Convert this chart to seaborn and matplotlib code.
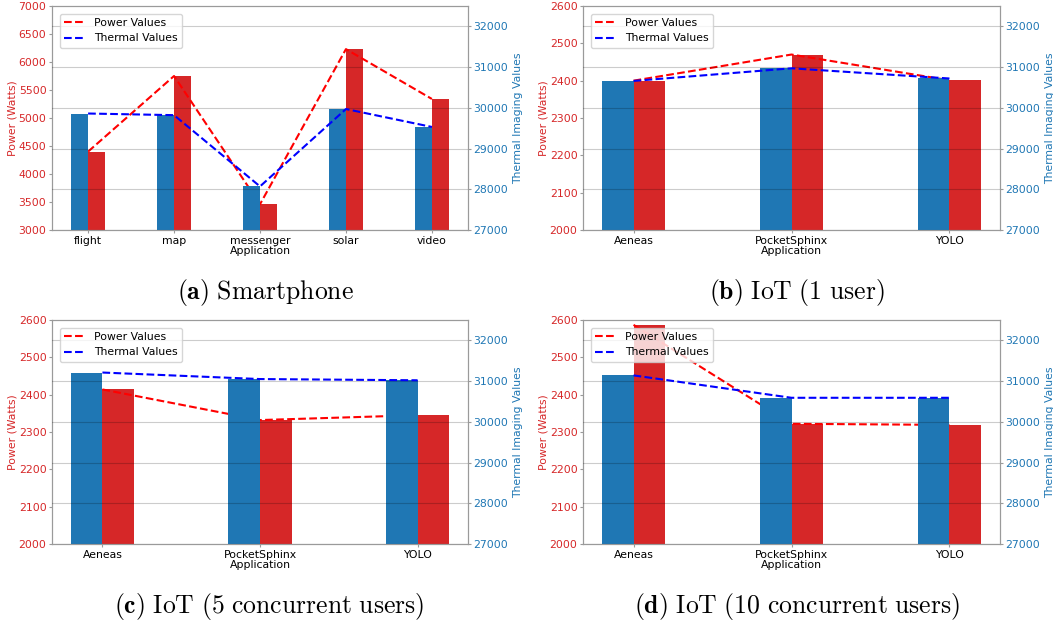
import numpy as np
import pandas as pd
import matplotlib
matplotlib.use("Agg")
import matplotlib.pyplot as plt
import seaborn as sns

# ---- data -----------------------------------------------------------------
smartphone_apps = ["flight", "map", "messenger", "solar", "video"]
smartphone_power = [4400, 5750, 3460, 6230, 5340]
smartphone_thermal = [29860, 29820, 28070, 29970, 29530]

iot_apps = ["Aeneas", "PocketSphinx", "YOLO"]
iot1_power = [2400, 2470, 2401]
iot1_thermal = [30660, 30970, 30720]
iot5_power = [2414, 2332, 2345]
iot5_thermal = [31210, 31050, 31020]
iot10_power = [2587, 2322, 2319]
iot10_thermal = [31140, 30590, 30590]

captions = [
    r"$\mathbf{(a)}\ \mathrm{Smartphone}$",
    r"$\mathbf{(b)}\ \mathrm{IoT\ (1\ user)}$",
    r"$\mathbf{(c)}\ \mathrm{IoT\ (5\ concurrent\ users)}$",
    r"$\mathbf{(d)}\ \mathrm{IoT\ (10\ concurrent\ users)}$",
]

smartphone_power_ticks = [3000, 3500, 4000, 4500, 5000, 5500, 6000, 6500, 7000]
iot_power_ticks = [2000, 2100, 2200, 2300, 2400, 2500, 2600]
thermal_ticks = [27000, 28000, 29000, 30000, 31000, 32000]
thermal_lim = (27000, 32500)

# ---- style ----------------------------------------------------------------
RED = "#d62728"
BLUE = "#1f77b4"
SPINE = "#9a9a9a"
FS = 7.8
plt.rcParams["mathtext.fontset"] = "cm"

palette = {"Thermal": BLUE, "Power": RED}

fig = plt.figure(figsize=(10.53, 6.23), dpi=100)
W, H = 1053, 623


def rect(left, top, right, bottom):
    return [left / W, 1 - bottom / H, (right - left) / W, (bottom - top) / H]


def draw_panel(r, apps, power, thermal, power_ticks):
    ax1 = fig.add_axes(r)
    ax2 = ax1.twinx()
    n = len(apps)

    df_p = pd.DataFrame({"app": apps, "series": "Power", "value": power})
    df_t = pd.DataFrame({"app": apps, "series": "Thermal", "value": thermal})
    common = dict(x="app", y="value", hue="series", order=apps,
                  hue_order=["Thermal", "Power"], palette=palette,
                  width=0.4, dodge=True, saturation=1, errorbar=None,
                  legend=False, linewidth=0)
    sns.barplot(data=df_p, ax=ax1, **common)
    sns.barplot(data=df_t, ax=ax2, **common)

    pos = np.arange(n)
    sns.lineplot(x=pos, y=power, ax=ax1, color="red", linestyle="--",
                 linewidth=1.5, label="Power Values", legend=False)
    sns.lineplot(x=pos, y=thermal, ax=ax2, color="blue", linestyle="--",
                 linewidth=1.5, label="Thermal Values", legend=False,
                 zorder=3)

    # x range: bars plus 5% margin on each side
    span = (n - 1) + 0.4
    ax1.set_xlim(-0.2 - 0.05 * span, n - 1 + 0.2 + 0.05 * span)
    ax1.set_xticks(pos)
    ax1.set_xticklabels(apps)

    ax1.set_ylim(power_ticks[0], power_ticks[-1])
    ax1.set_yticks(power_ticks)
    ax2.set_ylim(*thermal_lim)
    ax2.set_yticks(thermal_ticks)

    ax1.grid(False)
    ax2.grid(False)
    ax2.yaxis.grid(True, color="black", alpha=0.2, linewidth=0.8)
    ax2.set_axisbelow(False)

    for ax in (ax1, ax2):
        for s in ax.spines.values():
            s.set_color(SPINE)
        ax.tick_params(color=SPINE, labelsize=FS, length=2.5, pad=1.5)
    ax1.tick_params(axis="y", labelcolor=RED)
    ax2.tick_params(axis="y", labelcolor=BLUE)

    ax1.set_xlabel("Application", fontsize=FS, labelpad=0)
    ax1.set_ylabel("Power (Watts)", color=RED, fontsize=FS, labelpad=1)
    ax2.set_ylabel("Thermal Imaging Values", color=BLUE, fontsize=FS,
                   labelpad=3)
    ax2.set_xlabel("")

    handles = [ax1.get_lines()[-1], ax2.get_lines()[-1]]
    ax2.legend(handles=handles, labels=["Power Values", "Thermal Values"],
               loc="upper left", fontsize=FS, borderaxespad=0.7)
    return ax1, ax2


draw_panel(rect(52, 6, 468, 230), smartphone_apps, smartphone_power,
           smartphone_thermal, smartphone_power_ticks)
draw_panel(rect(583, 6, 1000, 230), iot_apps, iot1_power, iot1_thermal,
           iot_power_ticks)
draw_panel(rect(52, 320, 468, 544), iot_apps, iot5_power, iot5_thermal,
           iot_power_ticks)
draw_panel(rect(583, 320, 1000, 544), iot_apps, iot10_power, iot10_thermal,
           iot_power_ticks)

caption_pos = [(265, 292), (797, 292), (269, 606), (797, 606)]
for (cx, cy), text in zip(caption_pos, captions):
    fig.text(cx / W, 1 - cy / H, text, ha="center", va="center", fontsize=18.5)

fig.savefig("out.png", dpi=100)
